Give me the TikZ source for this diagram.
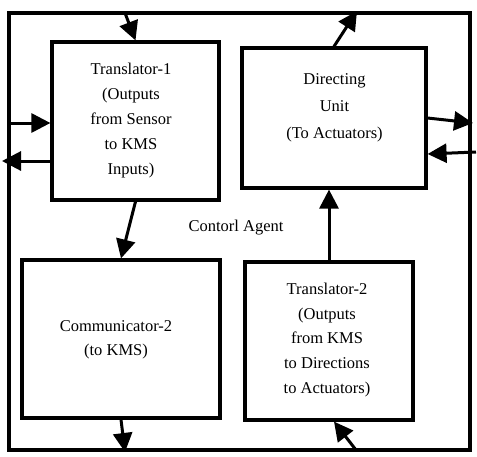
\documentclass[tikz,border=0pt]{standalone}
\usepackage{fontspec}
\setmainfont{Liberation Serif}
\usetikzlibrary{arrows.meta}
\tikzset{
  boxnode/.style={draw, line width=3.2pt, rectangle, inner sep=0pt},
  txt/.style={align=center, font=\fontsize{16.5}{25}\selectfont, inner sep=0pt},
  arr/.style={line width=3pt, -{Triangle[length=19pt,width=19pt]}}
}
\begin{document}
\begin{tikzpicture}[x=1pt,y=-1pt]
\useasboundingbox (0,0) rectangle (477,456);
% outer frame
\node[boxnode, minimum width=461pt, minimum height=437pt] (frame) at (239.5,231.5) {};
% boxes
\node[boxnode, minimum width=167pt, minimum height=158pt] (t1) at (135.5,121) {};
\node[boxnode, minimum width=184pt, minimum height=140pt] (du) at (334,118) {};
\node[boxnode, minimum width=198pt, minimum height=158pt] (comm) at (121,339) {};
\node[boxnode, minimum width=168pt, minimum height=158pt] (t2) at (329,341) {};
% texts
\node[txt] (t1text) at (131,121) {Translator-1\\(Outputs\\from Sensor\\to KMS\\Inputs)};
\node[txt, font=\fontsize{16.5}{27}\selectfont] (dutext) at (334.5,108) {Directing\\Unit\\(To Actuators)};
\node[txt, font=\fontsize{16.5}{24}\selectfont] (commtext) at (116,340) {Communicator-2\\(to KMS)};
\node[txt, font=\fontsize{16.5}{24.75}\selectfont] (t2text) at (327,340) {Translator-2\\(Outputs\\from KMS\\to Directions\\to Actuators)};
\node[txt] (agent) at (236,228) {Contorl Agent};
% free ends on the frame
\coordinate (in1) at (125,13);
\coordinate (in2) at (9,123);
\coordinate (out1) at (2,161);
\coordinate (out2) at (125,452);
\coordinate (out3) at (357,11);
\coordinate (out4) at (473,123);
\coordinate (in3) at (476,152);
\coordinate (in4) at (356,450);
% connectors
\draw[arr] (in1) -- (t1.north);
\draw[arr] (in2) -- (t1.west |- in2);
\draw[arr] (t1.west |- out1) -- (out1);
\draw[arr] (t1.south) -- (comm.north);
\draw[arr] (comm.south) -- (out2);
\draw[arr] (du.north) -- (out3);
\draw[arr] (du.east) -- (out4);
\draw[arr] (in3) -- ([yshift=-36pt]du.east);
\draw[arr] (t2.north) -- (t2.north |- du.south);
\draw[arr] (in4) -- ([xshift=5pt]t2.south);
\end{tikzpicture}
\end{document}
